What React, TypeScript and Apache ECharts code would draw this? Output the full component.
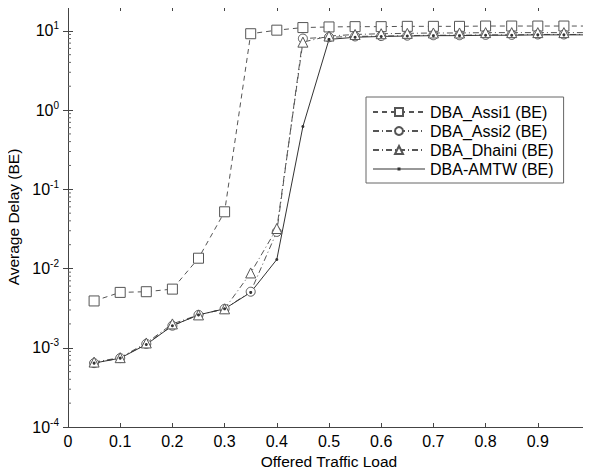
import React, { useEffect, useRef } from "react";
import * as echarts from "echarts";

const loads = [0.05, 0.1, 0.15, 0.2, 0.25, 0.3, 0.35, 0.4, 0.45, 0.5, 0.55, 0.6, 0.65, 0.7, 0.75, 0.8, 0.85, 0.9, 0.95, 1.0];
const assi1 = [0.0039, 0.005, 0.0051, 0.0055, 0.0135, 0.052, 9.2, 10.2, 11, 11.2, 11.3, 11.3, 11.4, 11.4, 11.4, 11.5, 11.5, 11.5, 11.5, 11.5];
const assi2 = [0.00064, 0.00074, 0.00112, 0.0019, 0.0026, 0.0031, 0.0051, 0.029, 8.0, 8.3, 8.5, 8.6, 8.7, 8.8, 8.8, 8.9, 8.9, 9.0, 9.0, 9.0];
const dhaini = [0.00066, 0.00075, 0.00115, 0.002, 0.0026, 0.0031, 0.0088, 0.032, 7.2, 8.6, 9.0, 9.2, 9.3, 9.4, 9.4, 9.5, 9.5, 9.5, 9.5, 9.5];
const amtw = [0.00064, 0.00074, 0.0011, 0.0019, 0.0026, 0.0031, 0.005, 0.013, 0.62, 7.8, 8.3, 8.5, 8.6, 8.7, 8.7, 8.8, 8.8, 8.9, 8.9, 8.9];
const seriesNames = ["DBA_Assi1 (BE)", "DBA_Assi2 (BE)", "DBA_Dhaini (BE)", "DBA-AMTW (BE)"];
const yMin = 1e-4;
const yMax = 20;

export default function App() {
  const ref = useRef<HTMLDivElement>(null);
  useEffect(() => {
    if (!ref.current) return;
    const chart = echarts.init(ref.current, null, { renderer: "svg" });
    const minorVals: number[][] = [];
    for (let e = -4; e <= 1; e++) {
      for (let m = 2; m <= 9; m++) {
        const v = m * Math.pow(10, e);
        if (v < yMax) minorVals.push([0, v]);
      }
    }
    const font = "Liberation Sans, Arial, sans-serif";
    const isPow = (v: number) => Math.abs(Math.log10(v) - Math.round(Math.log10(v))) < 1e-6;
    const mk = (arr: number[]) => loads.map((x, i) => [x, arr[i]]);
    const dashCol = "#555";
    const symCol = "#555";
    const amtwIcon =
      "path://M0,4.5 L52,4.5 L52,5.5 L0,5.5 Z M24.5,3.5 L27.5,3.5 L27.5,6.5 L24.5,6.5 Z M0,0 L0.01,0 L0.01,0.01 Z M52,10 L51.99,10 L51.99,9.99 Z";
    const hollow = { color: "#fff", borderColor: symCol, borderWidth: 1 };
    chart.setOption({
      animation: false,
      backgroundColor: "#fff",
      textStyle: { fontFamily: font },
      grid: { left: 68, right: 1, top: 7, bottom: 44, containLabel: false, outerBoundsMode: "none" },
      legend: {
        data: [
          { name: seriesNames[0] },
          { name: seriesNames[1] },
          { name: seriesNames[2] },
          { name: seriesNames[3], icon: amtwIcon },
        ],
        orient: "vertical",
        left: 366,
        top: 97,
        width: 192,
        backgroundColor: "#fff",
        borderColor: "#666",
        borderWidth: 1,
        padding: [7, 10, 6, 6],
        itemGap: 3,
        itemWidth: 52,
        itemHeight: 10,
        textStyle: { fontSize: 16, color: "#000", fontFamily: font },
      },
      xAxis: [
        {
          type: "value",
          min: 0,
          max: 1,
          interval: 0.1,
          name: "Offered Traffic Load",
          nameLocation: "middle",
          nameGap: 24,
          nameTextStyle: { fontSize: 15.5, color: "#000" },
          axisLine: { lineStyle: { color: "#444" } },
          axisTick: { inside: true, length: 4, lineStyle: { color: "#444" } },
          axisLabel: {
            fontSize: 16,
            color: "#000",
            margin: 6,
            formatter: (v: number) => (v >= 0.999 ? "" : String(Math.round(v * 10) / 10)),
          },
          splitLine: { show: false },
        },
        {
          type: "value",
          position: "top",
          min: 0,
          max: 1,
          interval: 0.1,
          axisLine: { show: true, lineStyle: { color: "#444" } },
          axisTick: { inside: true, length: 4, lineStyle: { color: "#444" } },
          axisLabel: { show: false },
          splitLine: { show: false },
        },
      ],
      yAxis: [
        {
          type: "log",
          logBase: 10,
          min: yMin,
          max: yMax,
          name: "Average Delay (BE)",
          nameLocation: "middle",
          nameGap: 42,
          nameTextStyle: { fontSize: 15.5, color: "#000" },
          axisLine: { show: true, lineStyle: { color: "#444" } },
          axisTick: { inside: true, length: 5, lineStyle: { color: "#444" } },
          axisLabel: {
            color: "#000",
            margin: 9,
            formatter: (v: number) => {
              if (!isPow(v)) return "";
              return "{b|10}{e|" + Math.round(Math.log10(v)) + "}";
            },
            rich: {
              b: { fontSize: 16, color: "#000", fontFamily: font },
              e: { fontSize: 10, color: "#000", fontFamily: font, padding: [0, 0, 10, 0] },
            },
          },
          splitLine: { show: false },
        },
        {
          type: "log",
          logBase: 10,
          position: "right",
          min: yMin,
          max: yMax,
          axisLine: { show: true, lineStyle: { color: "#444" } },
          axisTick: { inside: true, length: 5, lineStyle: { color: "#444" } },
          axisLabel: { show: false },
          splitLine: { show: false },
        },
      ],
      series: [
        {
          type: "custom",
          silent: true,
          xAxisIndex: 0,
          yAxisIndex: 0,
          data: minorVals,
          renderItem: (params: any, api: any) => {
            const p = api.coord([0, api.value(1)]);
            const cs = params.coordSys;
            return {
              type: "group",
              children: [
                { type: "line", shape: { x1: cs.x, y1: p[1], x2: cs.x + 3, y2: p[1] }, style: { stroke: "#666", lineWidth: 1 } },
                { type: "line", shape: { x1: cs.x + cs.width - 3, y1: p[1], x2: cs.x + cs.width, y2: p[1] }, style: { stroke: "#666", lineWidth: 1 } },
              ],
            };
          },
        },
        {
          name: seriesNames[0],
          type: "line",
          data: mk(assi1),
          symbol: "rect",
          symbolSize: 10,
          color: symCol,
          lineStyle: { type: [5, 4], width: 1, color: dashCol },
          itemStyle: hollow,
        },
        {
          name: seriesNames[1],
          type: "line",
          data: mk(assi2),
          symbol: "circle",
          symbolSize: 9,
          color: symCol,
          lineStyle: { type: [6, 3, 1, 3], width: 1, color: dashCol },
          itemStyle: hollow,
        },
        {
          name: seriesNames[2],
          type: "line",
          data: mk(dhaini),
          symbol: "triangle",
          symbolSize: 10,
          color: symCol,
          lineStyle: { type: [6, 3, 1, 3], width: 1, color: dashCol },
          itemStyle: hollow,
        },
        {
          name: seriesNames[3],
          type: "line",
          data: mk(amtw),
          symbol: "circle",
          symbolSize: 3,
          color: "#333",
          lineStyle: { type: "solid", width: 1, color: "#333" },
          itemStyle: { color: "#333" },
        },
      ],
    });
    return () => chart.dispose();
  }, []);
  return <div ref={ref} style={{ width: 591, height: 471, marginLeft: -8, marginTop: -8 }} />;
}
